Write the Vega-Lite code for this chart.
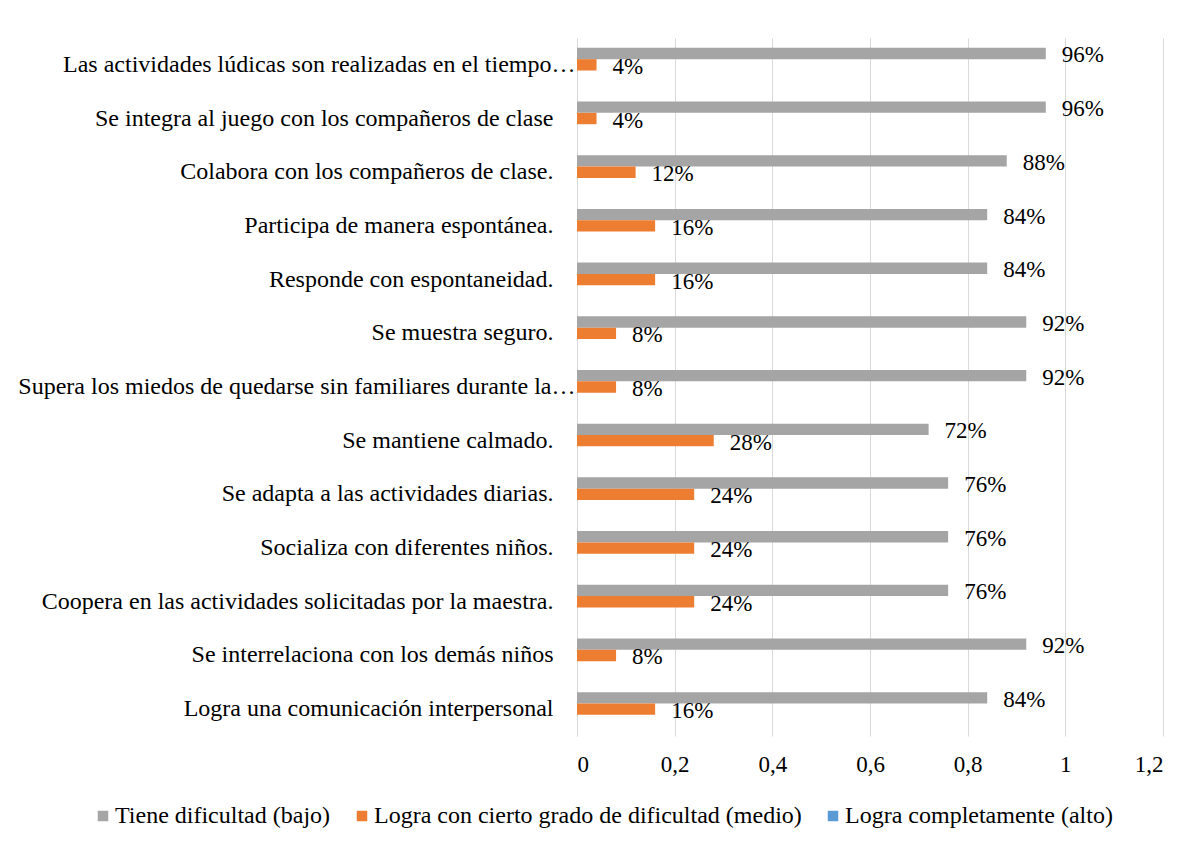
{
  "$schema": "https://vega.github.io/schema/vega-lite/v6.json",
  "autosize": "none",
  "padding": {"left": 577, "top": 38, "right": 40, "bottom": 110},
  "width": 586,
  "height": 698,
  "background": "white",
  "data": {"values": [
    {"item": "Las actividades lúdicas son realizadas en el tiempo…", "serie": "Tiene dificultad (bajo)", "v": 0.96},
    {"item": "Las actividades lúdicas son realizadas en el tiempo…", "serie": "Logra con cierto grado de dificultad (medio)", "v": 0.04},
    {"item": "Las actividades lúdicas son realizadas en el tiempo…", "serie": "Logra completamente (alto)", "v": 0},
    {"item": "Se integra al juego con los compañeros de clase", "serie": "Tiene dificultad (bajo)", "v": 0.96},
    {"item": "Se integra al juego con los compañeros de clase", "serie": "Logra con cierto grado de dificultad (medio)", "v": 0.04},
    {"item": "Se integra al juego con los compañeros de clase", "serie": "Logra completamente (alto)", "v": 0},
    {"item": "Colabora con los compañeros de clase.", "serie": "Tiene dificultad (bajo)", "v": 0.88},
    {"item": "Colabora con los compañeros de clase.", "serie": "Logra con cierto grado de dificultad (medio)", "v": 0.12},
    {"item": "Colabora con los compañeros de clase.", "serie": "Logra completamente (alto)", "v": 0},
    {"item": "Participa de manera espontánea.", "serie": "Tiene dificultad (bajo)", "v": 0.84},
    {"item": "Participa de manera espontánea.", "serie": "Logra con cierto grado de dificultad (medio)", "v": 0.16},
    {"item": "Participa de manera espontánea.", "serie": "Logra completamente (alto)", "v": 0},
    {"item": "Responde con espontaneidad.", "serie": "Tiene dificultad (bajo)", "v": 0.84},
    {"item": "Responde con espontaneidad.", "serie": "Logra con cierto grado de dificultad (medio)", "v": 0.16},
    {"item": "Responde con espontaneidad.", "serie": "Logra completamente (alto)", "v": 0},
    {"item": "Se muestra seguro.", "serie": "Tiene dificultad (bajo)", "v": 0.92},
    {"item": "Se muestra seguro.", "serie": "Logra con cierto grado de dificultad (medio)", "v": 0.08},
    {"item": "Se muestra seguro.", "serie": "Logra completamente (alto)", "v": 0},
    {"item": "Supera los miedos de quedarse sin familiares durante la…", "serie": "Tiene dificultad (bajo)", "v": 0.92},
    {"item": "Supera los miedos de quedarse sin familiares durante la…", "serie": "Logra con cierto grado de dificultad (medio)", "v": 0.08},
    {"item": "Supera los miedos de quedarse sin familiares durante la…", "serie": "Logra completamente (alto)", "v": 0},
    {"item": "Se mantiene calmado.", "serie": "Tiene dificultad (bajo)", "v": 0.72},
    {"item": "Se mantiene calmado.", "serie": "Logra con cierto grado de dificultad (medio)", "v": 0.28},
    {"item": "Se mantiene calmado.", "serie": "Logra completamente (alto)", "v": 0},
    {"item": "Se adapta a las actividades diarias.", "serie": "Tiene dificultad (bajo)", "v": 0.76},
    {"item": "Se adapta a las actividades diarias.", "serie": "Logra con cierto grado de dificultad (medio)", "v": 0.24},
    {"item": "Se adapta a las actividades diarias.", "serie": "Logra completamente (alto)", "v": 0},
    {"item": "Socializa con diferentes niños.", "serie": "Tiene dificultad (bajo)", "v": 0.76},
    {"item": "Socializa con diferentes niños.", "serie": "Logra con cierto grado de dificultad (medio)", "v": 0.24},
    {"item": "Socializa con diferentes niños.", "serie": "Logra completamente (alto)", "v": 0},
    {"item": "Coopera en las actividades solicitadas por la maestra.", "serie": "Tiene dificultad (bajo)", "v": 0.76},
    {"item": "Coopera en las actividades solicitadas por la maestra.", "serie": "Logra con cierto grado de dificultad (medio)", "v": 0.24},
    {"item": "Coopera en las actividades solicitadas por la maestra.", "serie": "Logra completamente (alto)", "v": 0},
    {"item": "Se interrelaciona con los demás niños", "serie": "Tiene dificultad (bajo)", "v": 0.92},
    {"item": "Se interrelaciona con los demás niños", "serie": "Logra con cierto grado de dificultad (medio)", "v": 0.08},
    {"item": "Se interrelaciona con los demás niños", "serie": "Logra completamente (alto)", "v": 0},
    {"item": "Logra una comunicación interpersonal", "serie": "Tiene dificultad (bajo)", "v": 0.84},
    {"item": "Logra una comunicación interpersonal", "serie": "Logra con cierto grado de dificultad (medio)", "v": 0.16},
    {"item": "Logra una comunicación interpersonal", "serie": "Logra completamente (alto)", "v": 0}
  ]},
  "encoding": {
    "y": {
      "field": "item", "type": "nominal", "sort": null, "title": null,
      "scale": {"paddingInner": 0.366, "paddingOuter": 0.183},
      "axis": {
        "labelFont": "Liberation Serif", "labelFontSize": 24, "labelColor": "#000000",
        "labelPadding": {"condition": {"test": "indexof(datum.value, '…') >= 0", "value": 2}, "value": 24},
        "ticks": false, "domainColor": "#d9d9d9", "domainWidth": 1,
        "labelLimit": 700
      }
    },
    "yOffset": {
      "field": "serie", "type": "nominal",
      "sort": ["Tiene dificultad (bajo)", "Logra con cierto grado de dificultad (medio)", "Logra completamente (alto)"],
      "scale": {"paddingInner": 0, "paddingOuter": 0}
    },
    "x": {
      "field": "v", "type": "quantitative", "title": null,
      "scale": {"domain": [0, 1.2], "nice": false},
      "axis": {
        "values": [0, 0.2, 0.4, 0.6, 0.8, 1, 1.2],
        "labelExpr": "replace(format(datum.value, '~g'), '.', ',')",
        "labelFont": "Liberation Serif", "labelFontSize": 23, "labelColor": "#000000",
        "labelPadding": 17, "ticks": false, "domain": false,
        "grid": true, "gridColor": "#d9d9d9", "gridWidth": 1
      }
    }
  },
  "layer": [
    {
      "mark": {"type": "bar"},
      "encoding": {
        "color": {
          "field": "serie", "type": "nominal",
          "sort": ["Tiene dificultad (bajo)", "Logra con cierto grado de dificultad (medio)", "Logra completamente (alto)"],
          "scale": {"domain": ["Tiene dificultad (bajo)", "Logra con cierto grado de dificultad (medio)", "Logra completamente (alto)"], "range": ["#a5a5a5", "#ed7d31", "#5b9bd5"]},
          "legend": {
            "title": null, "orient": "none", "direction": "horizontal",
            "legendX": -486, "legendY": 766,
            "symbolType": "square", "symbolSize": 110, "symbolStrokeWidth": 0,
            "labelFont": "Liberation Serif", "labelFontSize": 24, "labelColor": "#000000",
            "labelOffset": 0, "columnPadding": 19, "labelLimit": 700
          }
        }
      }
    },
    {
      "transform": [{"filter": "datum.v > 0"}],
      "mark": {"type": "text", "align": "left", "baseline": "middle", "dx": 16, "dy": 2, "font": "Liberation Serif", "fontSize": 23, "color": "#000000"},
      "encoding": {
        "text": {"field": "v", "type": "quantitative", "format": ".0%"}
      }
    }
  ],
  "config": {"view": {"stroke": null}}
}
